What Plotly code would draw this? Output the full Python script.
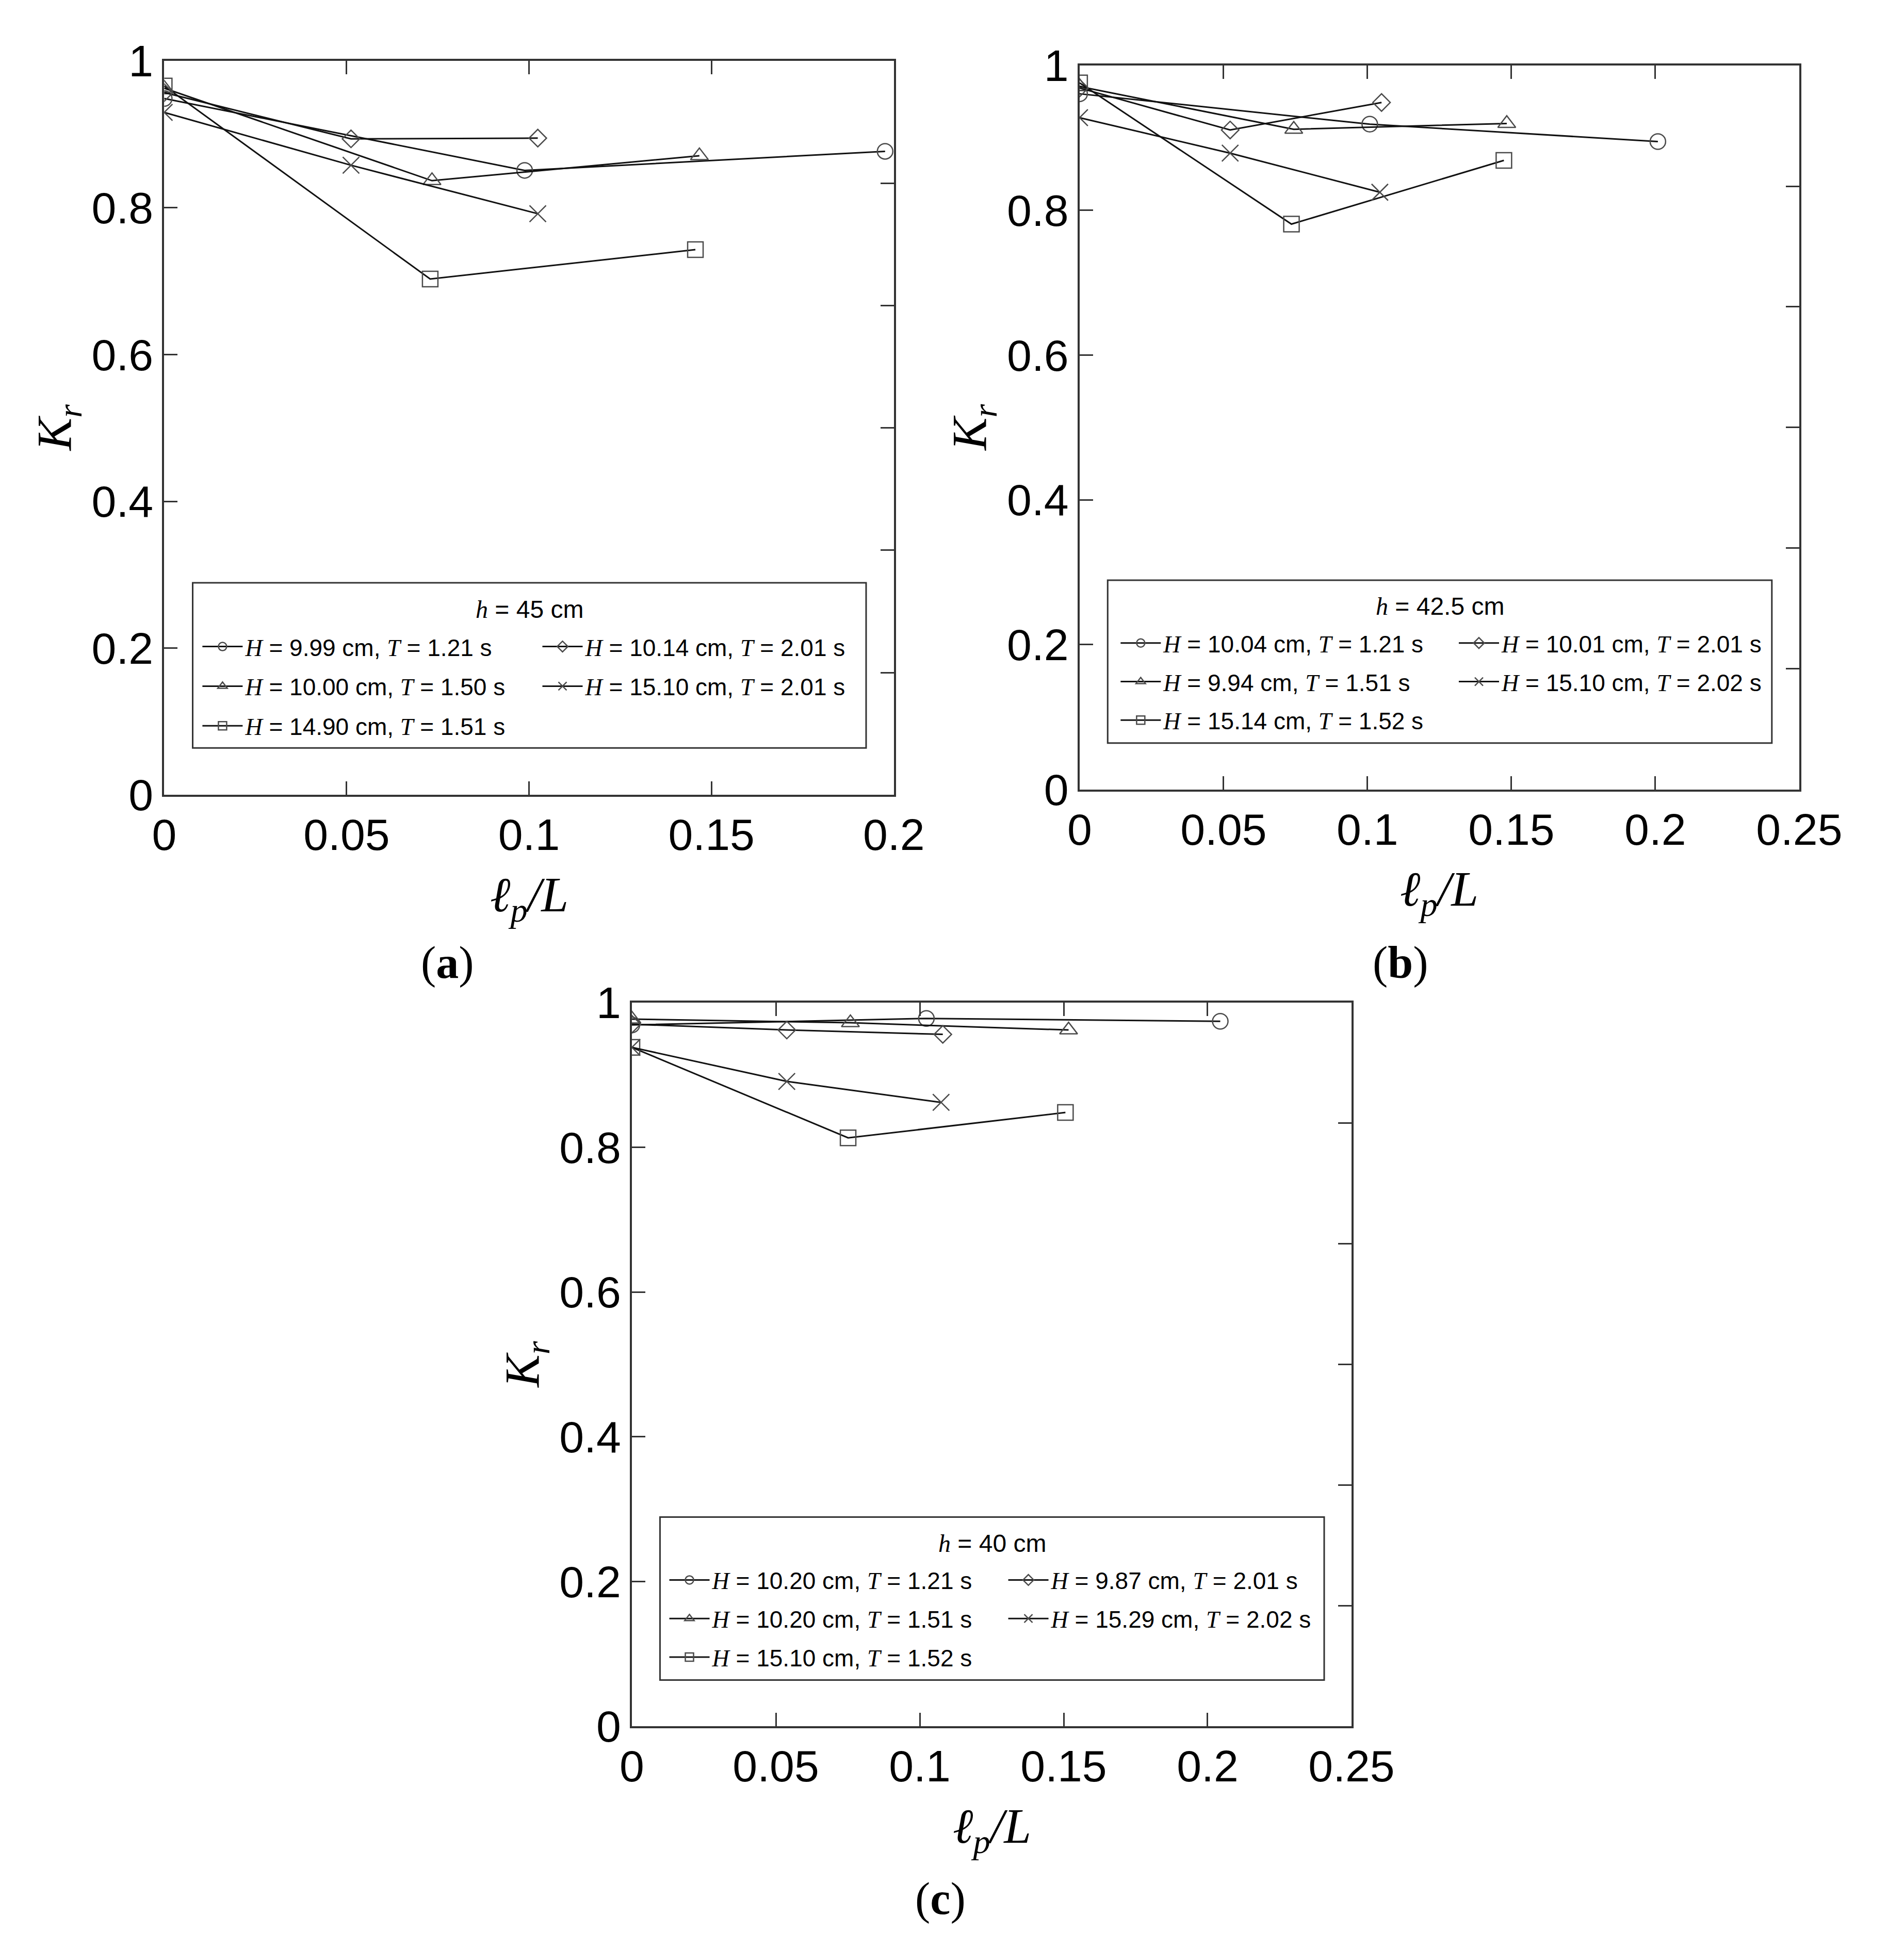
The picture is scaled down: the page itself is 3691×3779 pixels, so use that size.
import plotly.graph_objects as go

W, H = 3691, 3779

# ---------------- data ----------------
# panel (a) h = 45 cm
A_circle_x = [0.0, 0.0988, 0.1976]; A_circle_y = [0.949, 0.851, 0.877]
A_tri_x = [0.0, 0.0734, 0.1467];    A_tri_y = [0.963, 0.837, 0.871]
A_sq_x = [0.0, 0.0729, 0.1456];     A_sq_y = [0.966, 0.703, 0.743]
A_dia_x = [0.0, 0.0512, 0.1024];    A_dia_y = [0.957, 0.894, 0.895]
A_x_x = [0.0, 0.0512, 0.1024];      A_x_y = [0.930, 0.858, 0.792]
A_labels = [("9.99", "1.21"), ("10.00", "1.50"), ("14.90", "1.51"),
            ("10.14", "2.01"), ("15.10", "2.01")]

# panel (b) h = 42.5 cm
B_circle_x = [0.0, 0.1008, 0.2009]; B_circle_y = [0.961, 0.919, 0.895]
B_tri_x = [0.0, 0.0744, 0.1484];    B_tri_y = [0.971, 0.912, 0.920]
B_sq_x = [0.0, 0.0736, 0.1474];     B_sq_y = [0.976, 0.781, 0.869]
B_dia_x = [0.0, 0.0523, 0.1049];    B_dia_y = [0.969, 0.911, 0.949]
B_x_x = [0.0, 0.0523, 0.1043];      B_x_y = [0.928, 0.879, 0.825]
B_labels = [("10.04", "1.21"), ("9.94", "1.51"), ("15.14", "1.52"),
            ("10.01", "2.01"), ("15.10", "2.02")]

# panel (c) h = 40 cm
C_circle_x = [0.0, 0.1023, 0.2044]; C_circle_y = [0.969, 0.978, 0.974]
C_tri_x = [0.0, 0.0759, 0.1517];    C_tri_y = [0.977, 0.972, 0.962]
C_sq_x = [0.0, 0.0751, 0.1506];     C_sq_y = [0.938, 0.813, 0.848]
C_dia_x = [0.0, 0.0538, 0.1080];    C_dia_y = [0.970, 0.962, 0.956]
C_x_x = [0.0, 0.0538, 0.1074];      C_x_y = [0.938, 0.891, 0.862]
C_labels = [("10.20", "1.21"), ("10.20", "1.51"), ("15.10", "1.52"),
            ("9.87", "2.01"), ("15.29", "2.02")]

panel_titles = ["45", "42.5", "40"]
x_ticks_a = [0, 0.05, 0.1, 0.15, 0.2]
x_ticks_bc = [0, 0.05, 0.1, 0.15, 0.2, 0.25]
y_ticks = [0, 0.2, 0.4, 0.6, 0.8, 1]
y_right_ticks = [1 / 6, 2 / 6, 3 / 6, 4 / 6, 5 / 6]

SYMBOLS = ["circle-open", "triangle-up-open", "square-open", "diamond-open", "x-thin-open"]
SIZES = [30, 30, 30, 26, 32]

# ---------------- layout helpers (pixel -> paper) ----------------
def px(x):
    return x / W

def py(y):
    return 1 - y / H

SERIF = "Liberation Serif"
SANS = "Liberation Sans"
LEG_FONT = 46

def legend_text(Hv, Tv):
    return (f"<span style=\"font-family:'{SERIF}'\"><i>H</i></span> = {Hv} cm, "
            f"<span style=\"font-family:'{SERIF}'\"><i>T</i></span> = {Tv} s")

panels = [
    dict(name="a", series=[(A_circle_x, A_circle_y), (A_tri_x, A_tri_y), (A_sq_x, A_sq_y),
                           (A_dia_x, A_dia_y), (A_x_x, A_x_y)], labels=A_labels,
         box=(295, 64, 1752, 1524), xmax=0.2, xt=x_ticks_a,
         col=(0.079, 0.545), plx=0.388, gap=14),
    dict(name="b", series=[(B_circle_x, B_circle_y), (B_tri_x, B_tri_y), (B_sq_x, B_sq_y),
                           (B_dia_x, B_dia_y), (B_x_x, B_x_y)], labels=B_labels,
         box=(2123, 73, 3560, 1513), xmax=0.25, xt=x_ticks_bc,
         col=(0.084, 0.554), plx=0.446, gap=12),
    dict(name="c", series=[(C_circle_x, C_circle_y), (C_tri_x, C_tri_y), (C_sq_x, C_sq_y),
                           (C_dia_x, C_dia_y), (C_x_x, C_x_y)], labels=C_labels,
         box=(1229, 1937, 2666, 3377), xmax=0.25, xt=x_ticks_bc,
         col=(0.079, 0.550), plx=0.429, gap=12),
]
panel_label_y = [1858, 1858, 3720]

fig = go.Figure()
layout = dict(width=W, height=H, autosize=False, margin=dict(l=0, r=0, t=0, b=0),
              paper_bgcolor="white", plot_bgcolor="white", showlegend=True)
annotations = []
shapes = []

AX_COLOR = "#333333"
for i, p in enumerate(panels):
    k = "" if i == 0 else str(i + 1)
    kr = str(i + 4)   # right-hand y axis
    kt = str(i + 4)   # top x axis
    x0, y0, x1, y1 = p["box"]
    bw, bh = x1 - x0, y1 - y0
    axis_common = dict(showline=True, linecolor=AX_COLOR, linewidth=4,
                       ticks="inside", ticklen=26, tickwidth=3, tickcolor=AX_COLOR,
                       showgrid=False, zeroline=False, mirror=False,
                       tickfont=dict(family=SANS, size=86, color="black"))
    layout["xaxis" + k] = dict(domain=[px(x0), px(x1)], range=[0, p["xmax"]],
                               tickvals=p["xt"], ticktext=[f"{v:g}" for v in p["xt"]],
                               anchor="y" + k, **axis_common)
    layout["yaxis" + k] = dict(domain=[py(y1), py(y0)], range=[0, 1],
                               tickvals=y_ticks, ticktext=[f"{v:g}" for v in y_ticks],
                               anchor="x" + k, **axis_common)
    # top frame edge (same tick positions, no labels)
    layout["xaxis" + kt] = dict(range=[0, p["xmax"]], overlaying="x" + k, anchor="y" + k,
                                side="top", tickvals=p["xt"], showticklabels=False,
                                **axis_common)
    # right-hand frame edge with its own (unlabelled) tick spacing
    layout["yaxis" + kr] = dict(range=[0, 1], overlaying="y" + k, anchor="x" + k, side="right",
                                tickvals=y_right_ticks, showticklabels=False,
                                **axis_common)
    # empty trace so the top / right frame axes are created and drawn
    fig.add_trace(go.Scatter(x=[], y=[], xaxis="x" + kt, yaxis="y" + kr, mode="lines",
                             showlegend=False, hoverinfo="skip"))

    leg1 = "legend" if i == 0 else f"legend{2 * i + 1}"
    leg2 = f"legend{2 * i + 2}"
    for j, ((xs, ys), (Hv, Tv)) in enumerate(zip(p["series"], p["labels"])):
        fig.add_trace(go.Scatter(
            x=xs, y=ys, mode="lines+markers", xaxis="x" + k, yaxis="y" + k,
            name=legend_text(Hv, Tv), legend=leg1 if j < 3 else leg2,
            legendgroup=f"{p['name']}{j}",
            line=dict(color="#111111", width=3),
            marker=dict(symbol=SYMBOLS[j], size=SIZES[j], color="#4a4a4a",
                        line=dict(color="#4a4a4a", width=2.5)),
        ))
    row1 = y0 + 0.801 * bh
    for leg, fx in ((leg1, p["col"][0]), (leg2, p["col"][1])):
        cx = x0 + fx * bw
        layout[leg] = dict(x=px(cx - 39 - 5), y=py(row1 - 42), xanchor="left", yanchor="top",
                           bgcolor="rgba(0,0,0,0)", borderwidth=0, itemwidth=78,
                           tracegroupgap=p["gap"], orientation="v",
                           font=dict(family=SANS, size=LEG_FONT, color="black"))
    lx0, lx1 = x0 + 0.039 * bw, x0 + 0.962 * bw
    ly0, ly1 = y0 + 0.711 * bh, y0 + 0.936 * bh
    shapes.append(dict(type="rect", xref="paper", yref="paper",
                       x0=px(lx0), x1=px(lx1), y0=py(ly1), y1=py(ly0),
                       line=dict(color=AX_COLOR, width=3), fillcolor="rgba(0,0,0,0)"))
    annotations.append(dict(xref="paper", yref="paper", x=px((lx0 + lx1) / 2),
                            y=py(y0 + 0.747 * bh),
                            xanchor="center", yanchor="middle", showarrow=False,
                            text=f"<span style=\"font-family:'{SERIF}'\"><i>h</i></span> = {panel_titles[i]} cm",
                            font=dict(family=SANS, size=LEG_FONT + 2, color="black")))
    annotations.append(dict(xref="paper", yref="paper", x=px(x0 - 212), y=py(y0 + bh / 2),
                            textangle=-90, xanchor="center", yanchor="middle", showarrow=False,
                            text="<i>K</i><sub><i>r</i></sub>",
                            font=dict(family=SERIF, size=95, color="black")))
    annotations.append(dict(xref="paper", yref="paper", x=px(x0 + bw / 2), y=py(y1 + 205),
                            xanchor="center", yanchor="middle", showarrow=False,
                            text="<i>ℓ</i><sub><i>p</i></sub><i>/L</i>",
                            font=dict(family=SERIF, size=95, color="black")))
    annotations.append(dict(xref="paper", yref="paper", x=px(x0 + p["plx"] * bw),
                            y=py(panel_label_y[i]),
                            xanchor="center", yanchor="middle", showarrow=False,
                            text=f"(<b>{p['name']}</b>)",
                            font=dict(family=SERIF, size=88, color="black")))

layout["annotations"] = annotations
layout["shapes"] = shapes
fig.update_layout(**layout)
fig.write_html("out.html")
